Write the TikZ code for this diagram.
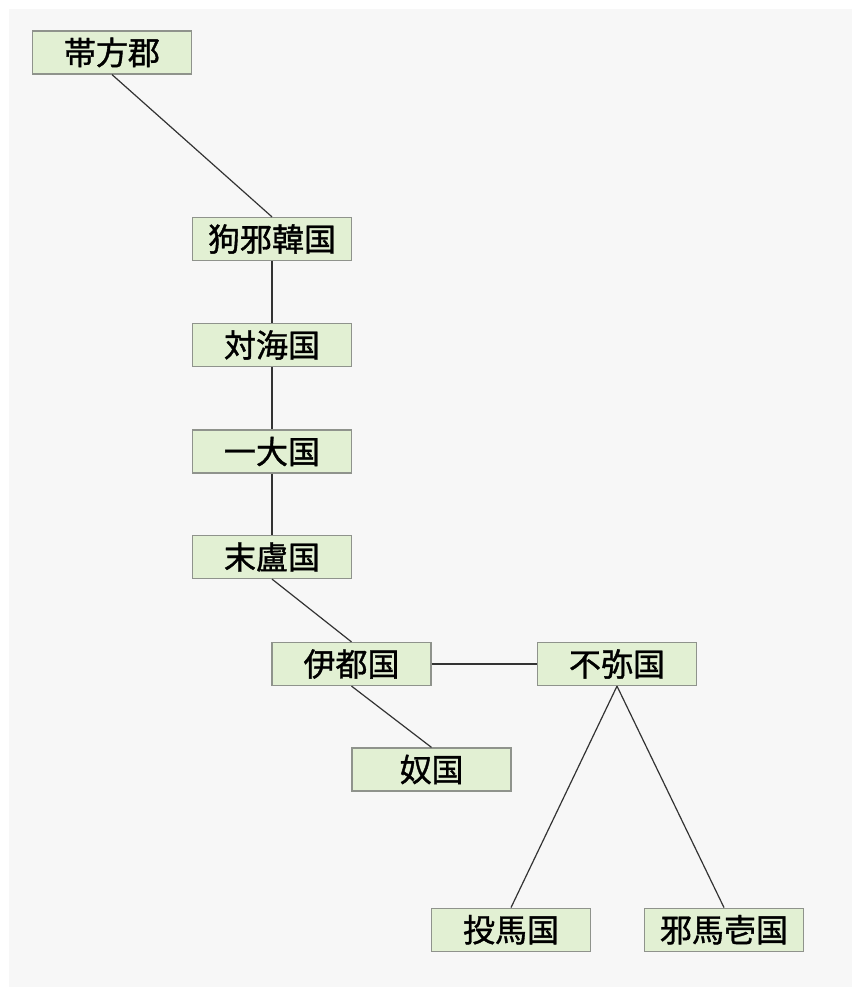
\documentclass[tikz,border=0pt]{standalone}
\usepackage{fontspec}
\newfontfamily\cjk[FakeBold=1.2]{Noto Sans CJK JP}
\definecolor{bgc}{HTML}{F7F7F7}
\definecolor{boxfill}{HTML}{E2F0D3}
\definecolor{boxline}{HTML}{8F938C}
\definecolor{edgec}{HTML}{333333}
\tikzset{
  kuni/.style={draw=boxline, fill=boxfill, line width=1.2pt, minimum width=159pt, minimum height=43pt, inner sep=0pt, font=\cjk\fontsize{32}{32}\selectfont, text=black},
  link/.style={draw=edgec, line width=1.2pt}
}
\begin{document}
\begin{tikzpicture}[x=1pt,y=-1pt]
\useasboundingbox (0,0) rectangle (852,987);
\fill[white] (0,0) rectangle (852,987);
\fill[bgc] (9,9) rectangle (852,987);
\node[kuni] (taifang) at (112,52.5) {帯方郡};
\node[kuni] (kuya) at (272,239) {狗邪韓国};
\node[kuni] (tsushima) at (272,345) {対海国};
\node[kuni] (iki) at (272,451.5) {一大国};
\node[kuni] (matsuro) at (272,557) {末盧国};
\node[kuni] (ito) at (351.5,664) {伊都国};
\node[kuni] (fumi) at (617,664) {不弥国};
\node[kuni] (na) at (431.5,769.5) {奴国};
\node[kuni] (toma) at (511,929.7) {投馬国};
\node[kuni] (yamai) at (724,929.7) {邪馬壱国};
\draw[link] (taifang.south) -- (kuya.north);
\draw[link] (kuya.south) -- (tsushima.north);
\draw[link] (tsushima.south) -- (iki.north);
\draw[link] (iki.south) -- (matsuro.north);
\draw[link] (matsuro.south) -- (ito.north);
\draw[link] (ito.south) -- (na.north);
\draw[link] (ito.east) -- (fumi.west);
\draw[link] (fumi.south) -- (toma.north);
\draw[link] (fumi.south) -- (yamai.north);
\end{tikzpicture}
\end{document}
